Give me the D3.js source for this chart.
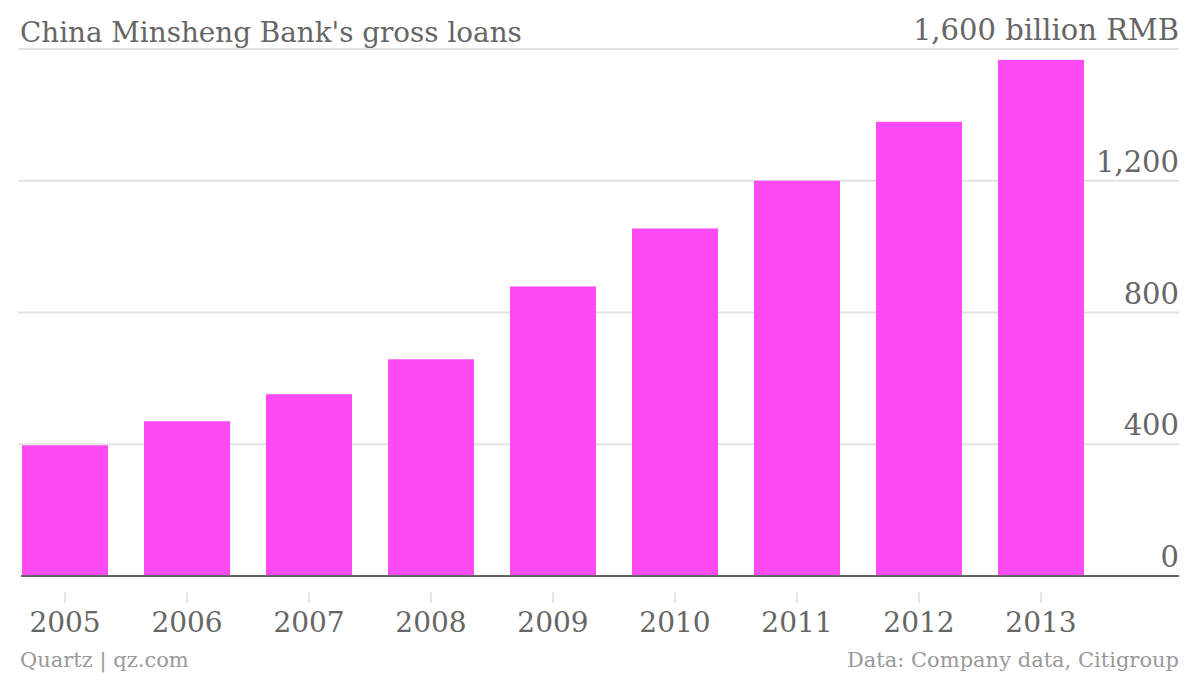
<!DOCTYPE html>
<html><head><meta charset="utf-8">
<script src="https://cdn.jsdelivr.net/npm/d3@7"></script>
<style>body{margin:0;background:#fff}svg{display:block}text{font-family:"DejaVu Serif",serif}</style>
</head><body><svg id="c" width="1200" height="676"></svg>
<script>
const years = ["2005","2006","2007","2008","2009","2010","2011","2012","2013"];
const loans = [397, 470, 552, 658, 879, 1055, 1200, 1379, 1567];
const yTicks = [0, 400, 800, 1200, 1600];
const title = "China Minsheng Bank's gross loans";
const unit = "billion RMB";

(function () {
const svg = d3.select("#c");
const pLeft = 18, pRight = 1179, pTop = 49, pBottom = 576;
const x = d3.scaleBand().domain(years).range([18, 1088]).paddingInner(0.295).paddingOuter(0.033);
const y = d3.scaleLinear().domain([0, 1600]).range([pBottom, pTop]);

svg.append("g").selectAll("line").data(yTicks.filter(d => d > 0)).join("line")
  .attr("x1", pLeft).attr("x2", pRight).attr("y1", d => y(d)).attr("y2", d => y(d))
  .attr("stroke", "#e3e3e3").attr("stroke-width", 2);

svg.append("g").selectAll("rect").data(loans).join("rect")
  .attr("x", (d, i) => x(years[i])).attr("width", x.bandwidth())
  .attr("y", d => y(d)).attr("height", d => pBottom - y(d))
  .attr("fill", "#fd4af2");

svg.append("line").attr("x1", 21).attr("x2", pRight).attr("y1", pBottom).attr("y2", pBottom)
  .attr("stroke", "#666").attr("stroke-width", 2);

const fmt = d3.format(",");
svg.append("g").selectAll("text").data(yTicks).join("text")
  .attr("x", pRight).attr("y", d => y(d) - 9).attr("text-anchor", "end")
  .attr("font-size", 29).attr("fill", "#666")
  .text(d => d === 1600 ? fmt(d) + " " + unit : fmt(d));

const xa = svg.append("g");
xa.selectAll("line").data(years).join("line")
  .attr("x1", d => x(d) + x.bandwidth() / 2).attr("x2", d => x(d) + x.bandwidth() / 2)
  .attr("y1", 592).attr("y2", 603).attr("stroke", "#ddd").attr("stroke-width", 1.5);
xa.selectAll("text").data(years).join("text")
  .attr("x", d => x(d) + x.bandwidth() / 2).attr("y", 632).attr("text-anchor", "middle")
  .attr("font-size", 28).attr("fill", "#666").text(d => d);

svg.append("text").attr("x", 20).attr("y", 42).attr("font-size", 27.8).attr("fill", "#666").text(title);

svg.append("text").attr("x", 20).attr("y", 667).attr("font-size", 21).attr("fill", "#999").text("Quartz | qz.com");
svg.append("text").attr("x", 1179).attr("y", 667).attr("text-anchor", "end").attr("font-size", 21).attr("fill", "#999").text("Data: Company data, Citigroup");
})();
</script></body></html>
